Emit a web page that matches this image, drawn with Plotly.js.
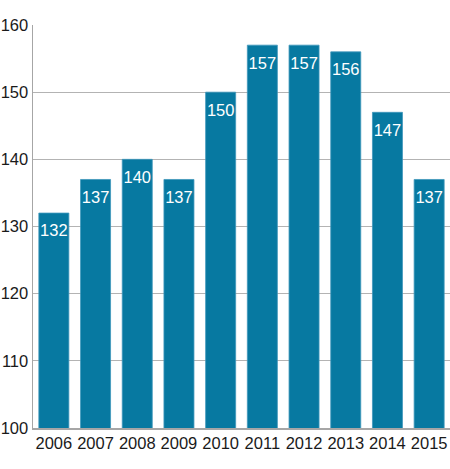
<!DOCTYPE html>
<html>
<head>
<meta charset="utf-8">
<script src="https://cdn.plot.ly/plotly-3.0.1.min.js"></script>
<style>
  html, body { margin: 0; padding: 0; background: #fff; }
  #chart { width: 450px; height: 469px; }
</style>
</head>
<body>
<div id="chart"></div>
<script>
var years = ['2006', '2007', '2008', '2009', '2010', '2011', '2012', '2013', '2014', '2015'];
var values = [132, 137, 140, 137, 150, 157, 157, 156, 147, 137];
var yTicks = [100, 110, 120, 130, 140, 150, 160];

var FONT = 'Liberation Sans, Arial, sans-serif';

var bars = {
  x: years,
  y: values,
  type: 'bar',
  marker: { color: '#0779a1', line: { color: '#3f97bb', width: 0.8 } },
  hoverinfo: 'none'
};

// value labels sit just under the top of each bar;
// invisible markers push the text down a little
var labels = {
  x: years,
  y: values,
  type: 'scatter',
  mode: 'markers+text',
  marker: { size: 16, color: 'rgba(0,0,0,0)' },
  text: values.map(String),
  textposition: 'bottom center',
  textfont: { color: '#ffffff', size: 16.5, family: FONT },
  hoverinfo: 'none'
};

var layout = {
  width: 450,
  height: 469,
  margin: { l: 33, r: 0, t: 25, b: 41, pad: 0 },
  paper_bgcolor: '#ffffff',
  plot_bgcolor: '#ffffff',
  bargap: 0.28,
  showlegend: false,
  font: { family: FONT, size: 16.5, color: '#1a1a1a' },
  xaxis: {
    type: 'category',
    range: [-0.5, years.length - 0.5],
    showline: true,
    linecolor: '#a6a6a6',
    linewidth: 1.5,
    ticks: '',
    showgrid: false,
    fixedrange: true
  },
  yaxis: {
    range: [100, 160],
    tickvals: yTicks,
    ticktext: yTicks.map(String),
    showline: true,
    linecolor: '#a6a6a6',
    linewidth: 1.5,
    showgrid: true,
    gridcolor: '#b3b3b3',
    gridwidth: 1,
    zeroline: false,
    ticks: '',
    fixedrange: true
  }
};

Plotly.newPlot('chart', [bars, labels], layout, { displayModeBar: false, staticPlot: true });
</script>
</body>
</html>
